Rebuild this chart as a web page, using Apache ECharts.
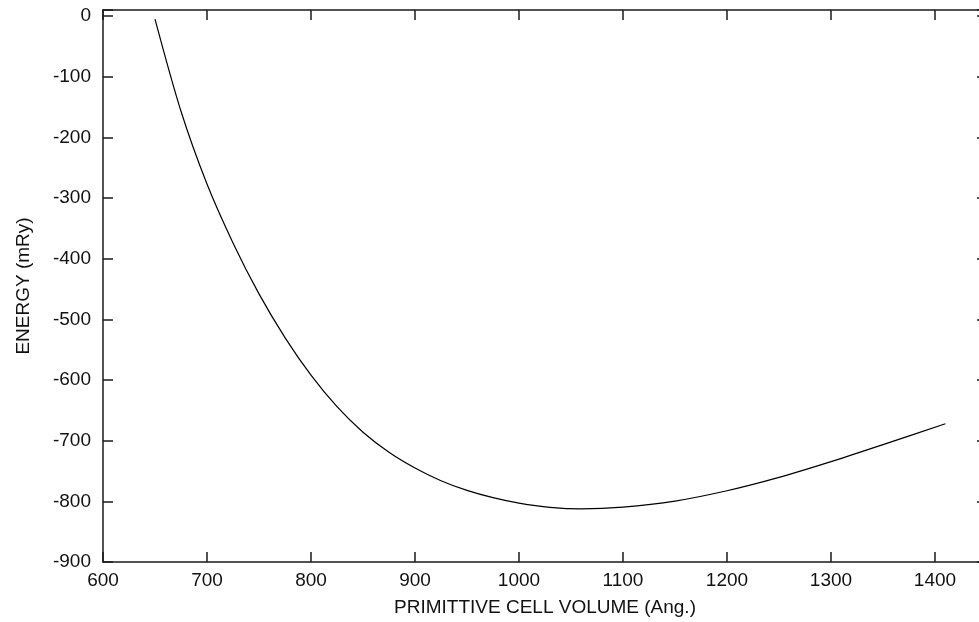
<!DOCTYPE html>
<html>
<head>
<meta charset="utf-8">
<script src="https://cdn.jsdelivr.net/npm/echarts@6/dist/echarts.min.js"></script>
<style>html,body{margin:0;padding:0;background:#fff;}#c{width:979px;height:622px;}</style>
</head>
<body>
<div id="c"></div>
<script>
var volumes = [650, 675, 700, 725, 750, 775, 800, 825, 850, 875, 900, 925, 950, 975, 1000, 1030, 1060, 1100, 1150, 1200, 1250, 1300, 1350, 1410];
var energies = [-5, -157, -277, -374, -458, -530, -592, -644, -686, -719, -745, -766, -782, -794, -803, -810, -812.5, -809.5, -799.5, -782.5, -760.5, -734.5, -706.5, -672];
var xTicks = [600, 700, 800, 900, 1000, 1100, 1200, 1300, 1400];
var yTicks = [0, -100, -200, -300, -400, -500, -600, -700, -800, -900];

var data = volumes.map(function (v, i) { return [v, energies[i]]; });
var font = 'Liberation Sans, Arial, Helvetica, sans-serif';
var lineStyle = { color: '#1a1a1a', width: 1.5 };
var chart = echarts.init(document.getElementById('c'), null, { renderer: 'canvas' });
chart.setOption({
  animation: false,
  backgroundColor: '#fff',
  grid: { left: 103, width: 884, top: 10, height: 552, containLabel: false, outerBoundsMode: 'none' },
  xAxis: [{
    type: 'value', min: 600, max: 1450, interval: 100, position: 'bottom',
    name: 'PRIMITTIVE CELL VOLUME (Ang.)', nameLocation: 'middle', nameGap: 36,
    nameTextStyle: { fontFamily: font, fontSize: 19, color: '#111' },
    axisLine: { show: true, onZero: false, lineStyle: lineStyle },
    axisTick: { show: true, inside: true, length: 10, lineStyle: lineStyle },
    axisLabel: { fontFamily: font, fontSize: 19, color: '#111', margin: 9,
      formatter: function (v) { return xTicks.indexOf(v) >= 0 ? String(v) : ''; } },
    splitLine: { show: false }
  }, {
    type: 'value', min: 600, max: 1450, interval: 100, position: 'top',
    axisLine: { show: true, onZero: false, lineStyle: lineStyle },
    axisTick: { show: true, inside: true, length: 10, lineStyle: lineStyle },
    axisLabel: { show: false },
    splitLine: { show: false }
  }],
  yAxis: [{
    type: 'value', min: -900, max: 10, interval: 100, position: 'left',
    name: 'ENERGY (mRy)', nameLocation: 'middle', nameGap: 70, nameRotate: 90,
    nameTextStyle: { fontFamily: font, fontSize: 19, color: '#111' },
    axisLine: { show: true, onZero: false, lineStyle: lineStyle },
    axisTick: { show: true, inside: true, length: 10, lineStyle: lineStyle },
    axisLabel: { fontFamily: font, fontSize: 19, color: '#111', margin: 12,
      formatter: function (v) { return yTicks.indexOf(v) >= 0 ? String(v) : ''; } },
    splitLine: { show: false }
  }, {
    type: 'value', min: -900, max: 10, interval: 100, position: 'right',
    axisLine: { show: true, onZero: false, lineStyle: lineStyle },
    axisTick: { show: true, inside: true, length: 10, lineStyle: lineStyle },
    axisLabel: { show: false },
    splitLine: { show: false }
  }],
  series: [{
    type: 'line', data: data, smooth: 0.3, showSymbol: false, symbol: 'none',
    xAxisIndex: 0, yAxisIndex: 0,
    lineStyle: { color: '#000', width: 1.2 }
  }]
});
</script>
</body>
</html>
